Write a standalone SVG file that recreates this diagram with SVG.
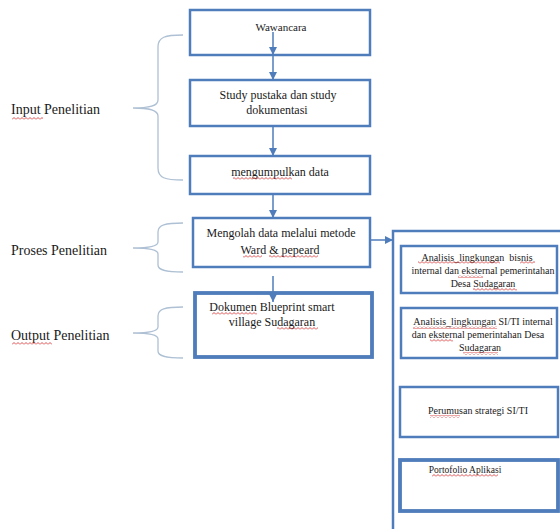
<svg xmlns="http://www.w3.org/2000/svg" width="560" height="529" viewBox="0 0 560 529">
<style>
.box{fill:#fff;stroke:#4f7cba;stroke-width:2.5}
.thick{stroke-width:3.8}
.t{font-family:'Liberation Serif','DejaVu Serif',serif;fill:#1a1a1a;text-anchor:middle}
.lab{font-family:'Liberation Serif','DejaVu Serif',serif;fill:#1a1a1a;font-size:14px}
.brace{fill:none;stroke:#aec0d4;stroke-width:1.3}
.conn{fill:none;stroke:#4f7cba;stroke-width:1.5}
.sq{fill:url(#sq)}
</style>
<defs>
<marker id="arr" viewBox="0 0 10 10" refX="10" refY="5" markerWidth="8" markerHeight="8" markerUnits="userSpaceOnUse" orient="auto">
<path d="M0,0 L10,5 L0,10 z" fill="#4f7cba"/>
</marker>
<pattern id="sq" width="4" height="3" patternUnits="userSpaceOnUse">
<path d="M0,2.5 L2,0.5 L4,2.5" fill="none" stroke="#d02020" stroke-width="0.8"/>
</pattern>
</defs>
<rect width="560" height="529" fill="#fff"/>

<g id="braces">
<path class="brace" d="M183,35 C165,35 158,37 158,47 L158,100 C158,106 150,108 133,108 C150,108 158,110 158,116 L158,168 C158,178 165,180 183,180"/>
<path class="brace" d="M183,223 C165,223 158,225 158,232 L158,242 C158,246 150,248 133,248 C150,248 158,250 158,254 L158,265 C158,270 165,272 183,272"/>
<path class="brace" d="M183,307 C165,307 158,309 158,316 L158,327 C158,331 150,333 133,333 C150,333 158,335 158,339 L158,351 C158,356 165,358 183,358"/>
</g>

<g id="labels">
<text class="lab" x="11" y="114">Input Penelitian</text>
<rect class="sq" x="12" y="117" width="31" height="3"/>
<text class="lab" x="11" y="255">Proses Penelitian</text>
<text class="lab" x="11" y="340">Output Penelitian</text>
<rect class="sq" x="12" y="342" width="40" height="3"/>
</g>

<g id="n-wawancara">
<rect class="box" x="190" y="10" width="180" height="45"/>
<text class="t" x="281" y="31" font-size="11">Wawancara</text>
</g>
<g id="n-study">
<rect class="box" x="190" y="80" width="180" height="46"/>
<text class="t" x="278" y="99" font-size="12">Study pustaka dan study</text>
<text class="t" x="277" y="114" font-size="12">dokumentasi</text>
</g>
<g id="n-mengumpulkan">
<rect class="box" x="190" y="156" width="180" height="38"/>
<text class="t" x="280" y="176" font-size="12">mengumpulkan data</text>
<rect class="sq" x="233" y="177" width="59" height="3"/>
</g>
<g id="n-mengolah">
<rect class="box" x="193" y="218" width="177" height="49"/>
<text class="t" x="281" y="237" font-size="12">Mengolah data melalui metode</text>
<text class="t" x="280" y="254" font-size="12">Ward &amp; pepeard</text>
<rect class="sq" x="243" y="255" width="19" height="3"/>
<rect class="sq" x="269" y="255" width="49" height="3"/>
</g>
<g id="n-dokumen">
<rect class="box thick" x="195" y="293" width="177" height="64"/>
<text class="t" x="272" y="311" font-size="12">Dokumen Blueprint smart</text>
<text class="t" x="272" y="326" font-size="12">village Sudagaran</text>
<rect class="sq" x="212" y="312" width="45" height="3"/>
<rect class="sq" x="277" y="327" width="41" height="3"/>
</g>

<g id="n-outer">
<path class="box" style="fill:none" d="M393,532 L393,231 L565,231"/>
</g>
<g id="n-analisis-bisnis">
<rect class="box" x="401" y="246" width="156" height="47"/>
<text class="t" x="477" y="261" font-size="10" xml:space="preserve">Analisis_lingkungan  bisnis</text>
<text class="t" x="483" y="274" font-size="10">internal dan eksternal pemerintahan</text>
<text class="t" x="483" y="287" font-size="10">Desa Sudagaran</text>
<rect class="sq" x="418" y="261" width="82" height="3"/>
<rect class="sq" x="520" y="261" width="15" height="3"/>
<rect class="sq" x="458" y="275" width="25" height="3"/>
<rect class="sq" x="473" y="288" width="44" height="3"/>
</g>
<g id="n-analisis-siti">
<rect class="box" x="401" y="308" width="156" height="50"/>
<text class="t" x="483" y="325" font-size="10">Analisis_lingkungan SI/TI internal</text>
<text class="t" x="478" y="338" font-size="10">dan eksternal pemerintahan Desa</text>
<text class="t" x="480" y="351" font-size="10">Sudagaran</text>
<rect class="sq" x="413" y="326" width="84" height="3"/>
<rect class="sq" x="430" y="339" width="23" height="3"/>
<rect class="sq" x="463" y="352" width="35" height="3"/>
</g>
<g id="n-perumusan">
<rect class="box" x="400" y="387" width="158" height="50"/>
<text class="t" x="478" y="414" font-size="10">Perumusan strategi SI/TI</text>
<rect class="sq" x="430" y="415" width="30" height="3"/>
</g>
<g id="n-portofolio">
<rect class="box thick" x="400" y="460" width="158" height="51"/>
<text class="t" x="465" y="473" font-size="9.5">Portofolio Aplikasi</text>
<rect class="sq" x="432" y="474" width="66" height="3"/>
</g>

<g id="connectors">
<path class="conn" d="M273,32 L273,55" marker-end="url(#arr)"/>
<path class="conn" d="M273,55 L273,80" marker-end="url(#arr)"/>
<path class="conn" d="M273,126 L273,156" marker-end="url(#arr)"/>
<path class="conn" d="M273,194 L273,218" marker-end="url(#arr)"/>
<path class="conn" d="M273,276 L273,302" marker-end="url(#arr)"/>
<path class="conn" d="M370,240 L393,240" marker-end="url(#arr)"/>
</g>
</svg>
